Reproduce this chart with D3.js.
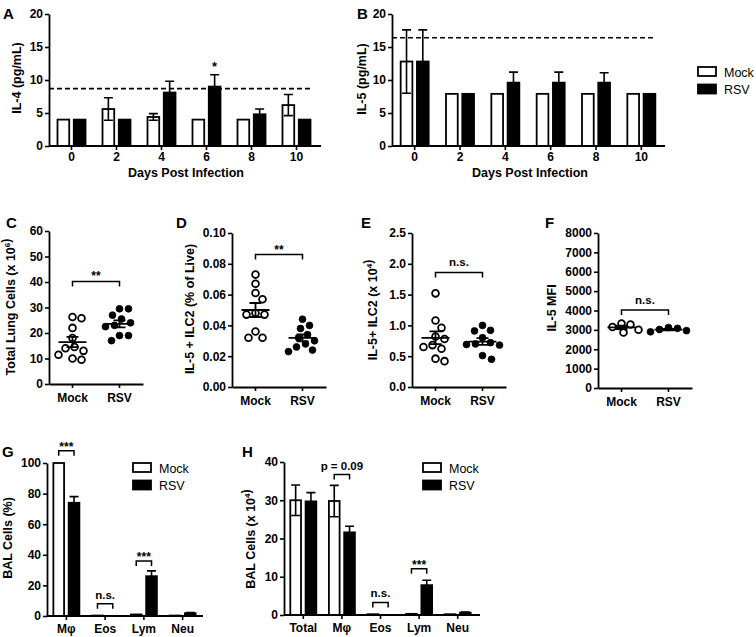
<!DOCTYPE html>
<html><head><meta charset="utf-8">
<script src="https://cdn.jsdelivr.net/npm/d3@7"></script>
<style>
body{margin:0;background:#fff}
</style></head><body>
<svg id="chart" width="756" height="637"></svg>
<script>
// ---------- DATA ----------
const series = ["Mock", "RSV"];
const days = ["0", "2", "4", "6", "8", "10"];

// Panel A: IL-4 (pg/mL)
const il4Mock    = [4.0, 5.6, 4.4, 4.0, 4.0, 6.2];
const il4MockErr = [0, 1.7, 0.5, 0, 0, 1.6];
const il4Rsv     = [4.0, 4.0, 8.1, 9.0, 4.8, 4.0];
const il4RsvErr  = [0, 0, 1.7, 1.8, 0.8, 0];
const il4Limit = 8.7;
const il4Ticks = [0, 5, 10, 15, 20];

// Panel B: IL-5 (pg/mL)
const il5Mock    = [12.8, 7.9, 7.9, 7.9, 7.9, 7.9];
const il5MockErr = [4.8, 0, 0, 0, 0, 0];
const il5Rsv     = [12.8, 7.9, 9.6, 9.6, 9.6, 7.9];
const il5RsvErr  = [4.8, 0, 1.6, 1.6, 1.5, 0];
const il5Limit = 16.4;
const il5Ticks = [0, 5, 10, 15, 20];

// Panel C: Total lung cells (x10^6)
const lungMock = [26.3, 25.8, 22.0, 18.0, 14.5, 14.0, 13.0, 11.5, 10.0, 9.5];
const lungRsv  = [29.5, 29.5, 27.0, 25.5, 24.0, 23.0, 22.5, 19.0, 19.0, 17.0];
const lungTicks = [0, 10, 20, 30, 40, 50, 60];

// Panel D: IL-5+ ILC2 (% of live)
const pctMock = [0.073, 0.067, 0.061, 0.057, 0.048, 0.047, 0.047, 0.036, 0.032, 0.032];
const pctRsv  = [0.044, 0.040, 0.038, 0.034, 0.032, 0.030, 0.028, 0.026, 0.024, 0.023];
const pctTicks = [0, 0.02, 0.04, 0.06, 0.08, 0.10];

// Panel E: IL-5+ ILC2 (x10^4)
const cntMock = [1.52, 1.08, 0.96, 0.82, 0.78, 0.68, 0.65, 0.62, 0.46, 0.42];
const cntRsv  = [1.00, 0.92, 0.91, 0.80, 0.72, 0.70, 0.69, 0.68, 0.51, 0.45];
const cntTicks = [0, 0.5, 1.0, 1.5, 2.0, 2.5];

// Panel F: IL-5 MFI
const mfiMock = [3330, 3280, 3150, 3010, 2870];
const mfiRsv  = [3120, 3080, 3020, 2960, 2900];
const mfiTicks = [0, 1000, 2000, 3000, 4000, 5000, 6000, 7000, 8000];

// Panel G: BAL cells (%)
const balCats = ["Mφ", "Eos", "Lym", "Neu"];
const balPctMock    = [100, 0.3, 1.0, 0.3];
const balPctMockErr = [0, 0, 0, 0];
const balPctRsv     = [74, 0, 26, 1.8];
const balPctRsvErr  = [4, 0, 3.5, 0.4];
const balPctTicks = [0, 20, 40, 60, 80, 100];

// Panel H: BAL cells (x10^4)
const balCntCats = ["Total", "Mφ", "Eos", "Lym", "Neu"];
const balCntMock    = [30, 29.8, 0.2, 0.3, 0.2];
const balCntMockErr = [4, 4.1, 0, 0, 0];
const balCntRsv     = [29.7, 21.6, 0, 7.8, 0.6];
const balCntRsvErr  = [2.3, 1.6, 0, 1.3, 0.2];
const balCntTicks = [0, 10, 20, 30, 40];

// significance annotations: [category, label, bracket value]
const sigA = [["6", "*", 11.3]];
const sigC = ["**", 40.2];
const sigD = ["**", 0.086];
const sigE = ["n.s.", 1.86];
const sigF = ["n.s.", 4020];
const sigG = [["Mφ", "***", 108], ["Eos", "n.s.", 8], ["Lym", "***", 36]];
const sigH = [["Mφ", "p = 0.09", 36.7], ["Eos", "n.s.", 3.3], ["Lym", "***", 12.1]];

// ---------- DRAWING ----------
const FONT = '"Liberation Sans", Arial, Helvetica, sans-serif';
const svg = d3.select("#chart");
svg.append("rect").attr("width", 756).attr("height", 637).attr("fill", "#fff");

function styleAxis(g) {
  g.select(".domain").attr("stroke", "#000").attr("stroke-width", 1.8);
  g.selectAll(".tick line").attr("stroke", "#000").attr("stroke-width", 1.6);
  g.selectAll(".tick text").attr("font-family", FONT).attr("font-weight", "bold")
    .attr("font-size", 12).attr("fill", "#000");
}

function txt(x, y, s, opt = {}) {
  return svg.append("text").attr("x", x).attr("y", y).text(s)
    .attr("font-family", FONT).attr("font-size", opt.size || 12)
    .attr("font-weight", opt.weight || "bold")
    .attr("text-anchor", opt.anchor || "start").attr("fill", "#000");
}

function yTitle(cx, cy, parts) {
  const t = svg.append("text").attr("transform", `translate(${cx},${cy}) rotate(-90)`)
    .attr("text-anchor", "middle").attr("dy", "0.35em")
    .attr("font-family", FONT).attr("font-weight", "bold").attr("font-size", 12.5).attr("fill", "#000");
  parts.forEach(p => {
    if (typeof p === "string") t.append("tspan").text(p);
    else {
      t.append("tspan").text(p.sup).attr("font-size", 8).attr("dy", -5);
      t.append("tspan").text("").attr("dy", 5);
    }
  });
}

function panelLetter(x, y, s) { txt(x, y, s, { size: 15 }); }

function legend(x, y) {
  series.forEach((s, i) => {
    svg.append("rect").attr("x", x).attr("y", y + i * 17.5).attr("width", 18).attr("height", 9)
      .attr("fill", i ? "#000" : "#fff").attr("stroke", "#000").attr("stroke-width", 1.8);
    txt(x + 26, y + 9.5 + i * 17.5, s, { size: 12.5, weight: "normal" });
  });
}

function bracket(x1, x2, yy, label, labelOffset) {
  svg.append("path").attr("d", `M${x1},${yy + 5}V${yy}H${x2}V${yy + 5}`)
    .attr("fill", "none").attr("stroke", "#000").attr("stroke-width", 1.5);
  txt((x1 + x2) / 2, yy - labelOffset, label, { size: label.startsWith("*") ? 12 : 11.5, anchor: "middle" });
}

function barPanel(o) {
  const x = d3.scaleBand().domain(o.cats).range([o.left, o.right]);
  const xs = d3.scaleBand().domain(series).range([-o.half, o.half]).paddingInner(o.gap);
  const y = d3.scaleLinear().domain([0, o.yMax]).range([o.bottom, o.top]);

  if (o.limit != null) {
    svg.append("line").attr("x1", o.left).attr("x2", o.limitEnd)
      .attr("y1", y(o.limit)).attr("y2", y(o.limit))
      .attr("stroke", "#000").attr("stroke-width", 1.6).attr("stroke-dasharray", "5,3");
  }

  const rows = [];
  o.cats.forEach((c, i) => {
    rows.push({ c, s: "Mock", v: o.mock[i], e: o.mockErr[i] });
    rows.push({ c, s: "RSV", v: o.rsv[i], e: o.rsvErr[i] });
  });
  const bx = d => x(d.c) + x.bandwidth() / 2 + xs(d.s);
  svg.append("g").selectAll("rect").data(rows.filter(d => d.v > 0)).join("rect")
    .attr("x", d => bx(d)).attr("width", xs.bandwidth())
    .attr("y", d => y(d.v)).attr("height", d => y(0) - y(d.v))
    .attr("fill", d => d.s === "Mock" ? "#fff" : "#000")
    .attr("stroke", "#000").attr("stroke-width", 1.8);
  const eb = svg.append("g").attr("stroke", "#000").attr("stroke-width", 1.6).attr("fill", "none");
  rows.filter(d => d.e > 0).forEach(d => {
    const cx = bx(d) + xs.bandwidth() / 2;
    eb.append("path").attr("d",
      `M${cx},${y(d.v - d.e)}V${y(d.v + d.e)}M${cx - 4.5},${y(d.v + d.e)}H${cx + 4.5}M${cx - 4.5},${y(d.v - d.e)}H${cx + 4.5}`);
  });

  const ga = svg.append("g").attr("transform", `translate(${o.left},0)`)
    .call(d3.axisLeft(y).tickValues(o.ticks).tickSize(4).tickPadding(2).tickSizeOuter(0));
  styleAxis(ga);
  const gb = svg.append("g").attr("transform", `translate(0,${o.bottom})`)
    .call(d3.axisBottom(x).tickSize(4).tickPadding(o.xPad).tickSizeOuter(0));
  styleAxis(gb);
  if (o.axisEnd) gb.select(".domain").attr("d", `M${o.left},0H${o.axisEnd}`);

  (o.sig || []).forEach(([c, label, v]) => {
    const cx = x(c) + x.bandwidth() / 2;
    if (o.starOnly) {
      const rx = cx + xs("RSV") + xs.bandwidth() / 2;
      txt(rx, y(v), label, { size: 13, anchor: "middle" });
    } else {
      const m = cx + xs("Mock") + xs.bandwidth() / 2;
      const r = cx + xs("RSV") + xs.bandwidth() / 2;
      bracket(m, r, y(v), label, label.startsWith("*") ? 0 : 5);
    }
  });
  return { x, y };
}

function swarm(vals, y, rad) {
  const pts = vals.map(v => ({ v, py: y(v) })).sort((a, b) => a.py - b.py);
  const placed = [];
  const minD = 2 * rad + 2.2;
  pts.forEach(p => {
    let best = 0;
    for (let k = 0; k < 60; k++) {
      const off = (k % 2 ? 1 : -1) * Math.ceil(k / 2) * 1;
      const ok = placed.every(q => Math.hypot(q.dx - off, q.py - p.py) >= minD);
      if (ok) { best = off; break; }
    }
    p.dx = best;
    placed.push(p);
  });
  return pts;
}

function scatterPanel(o) {
  const x = d3.scaleBand().domain(series).range([o.left, o.left + 94]);
  const y = d3.scaleLinear().domain([0, o.yMax]).range([o.bottom, o.top]);
  const ga = svg.append("g").attr("transform", `translate(${o.left},0)`)
    .call(d3.axisLeft(y).tickValues(o.ticks).tickFormat(o.fmt).tickSize(4).tickPadding(2).tickSizeOuter(0));
  styleAxis(ga);
  const gb = svg.append("g").attr("transform", `translate(0,${o.bottom})`)
    .call(d3.axisBottom(x).tickSize(4).tickPadding(5).tickSizeOuter(0));
  styleAxis(gb);

  const rad = o.r || 3.4;
  [o.mock, o.rsv].forEach((vals, si) => {
    const cx = x(series[si]) + x.bandwidth() / 2;
    const pts = swarm(vals, y, rad);
    svg.append("g").selectAll("circle").data(pts).join("circle")
      .attr("cx", d => cx + d.dx).attr("cy", d => d.py).attr("r", rad)
      .attr("fill", si ? "#000" : "#fff").attr("stroke", "#000").attr("stroke-width", si ? 0.8 : 1.8);
    const m = d3.mean(vals);
    const sem = d3.deviation(vals) / Math.sqrt(vals.length);
    svg.append("path").attr("d",
      `M${cx - 14},${y(m)}H${cx + 14}M${cx},${y(m - sem)}V${y(m + sem)}M${cx - 6},${y(m + sem)}H${cx + 6}M${cx - 6},${y(m - sem)}H${cx + 6}`)
      .attr("fill", "none").attr("stroke", "#000").attr("stroke-width", 1.8);
  });
  const [label, v] = o.sig;
  bracket(x("Mock") + x.bandwidth() / 2, x("RSV") + x.bandwidth() / 2, y(v), label, label.startsWith("*") ? 1 : 6);
}

// ----- Panel A -----
panelLetter(3, 19, "A");
barPanel({ cats: days, left: 49, right: 319, top: 14, bottom: 146, yMax: 20, ticks: il4Ticks,
  mock: il4Mock, mockErr: il4MockErr, rsv: il4Rsv, rsvErr: il4RsvErr, half: 14, gap: 0.28,
  limit: il4Limit, limitEnd: 312, xPad: 2, sig: sigA, starOnly: true, axisEnd: 321 });
yTitle(17, 78, ["IL-4 (pg/mL)"]);
txt(186, 177, "Days Post Infection", { anchor: "middle", size: 12.5 });

// ----- Panel B -----
panelLetter(357, 19, "B");
barPanel({ cats: days, left: 392, right: 664, top: 14, bottom: 146, yMax: 20, ticks: il5Ticks,
  mock: il5Mock, mockErr: il5MockErr, rsv: il5Rsv, rsvErr: il5RsvErr, half: 14, gap: 0.28,
  limit: il5Limit, limitEnd: 655, xPad: 2, axisEnd: 665 });
yTitle(362, 79, ["IL-5 (pg/mL)"]);
txt(530, 177, "Days Post Infection", { anchor: "middle", size: 12.5 });
legend(698, 67);

// ----- Panel C -----
panelLetter(6, 228, "C");
scatterPanel({ left: 49, top: 231, bottom: 384, yMax: 60, ticks: lungTicks, fmt: d3.format("d"),
  mock: lungMock, rsv: lungRsv, sig: sigC });
yTitle(11, 307, ["Total Lung Cells (x 10", { sup: "6" }, ")"]);

// ----- Panel D -----
panelLetter(176, 228, "D");
scatterPanel({ left: 232, top: 233, bottom: 387, yMax: 0.10, ticks: pctTicks, fmt: d3.format(".2f"),
  mock: pctMock, rsv: pctRsv, sig: sigD });
yTitle(190, 309, ["IL-5 + ILC2 (% of Live)"]);

// ----- Panel E -----
panelLetter(361, 228, "E");
scatterPanel({ left: 412, top: 233, bottom: 387, yMax: 2.5, ticks: cntTicks, fmt: d3.format(".1f"),
  mock: cntMock, rsv: cntRsv, sig: sigE });
yTitle(373, 310, ["IL-5+ ILC2 (x 10", { sup: "4" }, ")"]);

// ----- Panel F -----
panelLetter(545, 228, "F");
scatterPanel({ left: 598, top: 233, bottom: 388, yMax: 8000, ticks: mfiTicks, fmt: d3.format("d"),
  mock: mfiMock, rsv: mfiRsv, sig: sigF });
yTitle(552, 308, ["IL-5 MFI"]);

// ----- Panel G -----
panelLetter(2, 457, "G");
barPanel({ cats: balCats, left: 47, right: 202, top: 463, bottom: 616, yMax: 100, ticks: balPctTicks,
  mock: balPctMock, mockErr: balPctMockErr, rsv: balPctRsv, rsvErr: balPctRsvErr, half: 13, gap: 0.3,
  xPad: 4, sig: sigG, axisEnd: 203 });
yTitle(8, 538, ["BAL Cells (%)"]);
legend(133, 463);

// ----- Panel H -----
panelLetter(242, 457, "H");
barPanel({ cats: balCntCats, left: 284, right: 477, top: 462, bottom: 615, yMax: 40, ticks: balCntTicks,
  mock: balCntMock, mockErr: balCntMockErr, rsv: balCntRsv, rsvErr: balCntRsvErr, half: 13, gap: 0.3,
  xPad: 4, sig: sigH, axisEnd: 480 });
yTitle(251, 539, ["BAL Cells (x 10", { sup: "4" }, ")"]);
legend(423, 463);
</script>
</body></html>
